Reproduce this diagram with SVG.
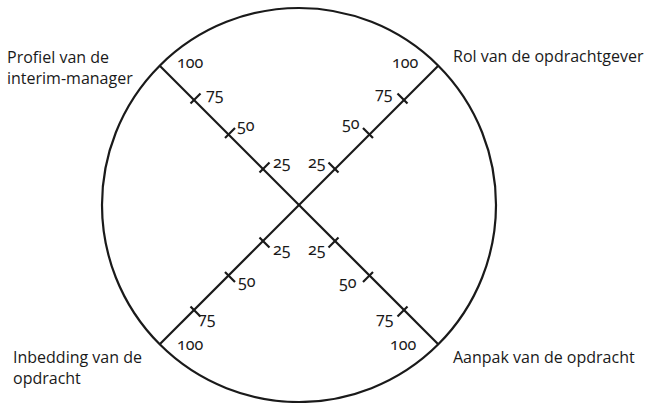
<svg xmlns="http://www.w3.org/2000/svg" width="650" height="403" viewBox="0 0 650 403">
  <style>
    .ln { stroke: #1a1a1a; stroke-width: 2.2; fill: none; stroke-linecap: butt; }
    .tk { stroke: #1a1a1a; stroke-width: 2.2; }
    .lbl { font-family: "Open Sans", "Noto Sans", "Liberation Sans", sans-serif; font-size: 16px; fill: #1a1a1a; }
    .num { font-family: "Noto Sans", "Open Sans", "Liberation Sans", sans-serif; font-size: 16px; fill: #1a1a1a; font-variant-numeric: oldstyle-nums; font-feature-settings: "onum" 1; }
  </style>
  <rect width="650" height="403" fill="#ffffff"/>
  <g id="circle">
    <circle class="ln" cx="299" cy="205" r="197"/>
  </g>
  <g id="connectors">
    <line class="ln" x1="160" y1="66" x2="438" y2="344"/>
    <line class="ln" x1="438" y1="66" x2="160" y2="344"/>
  </g>
  <g id="ticks">
    <line class="tk" x1="259.5" y1="172.5" x2="269.5" y2="162.5"/>
    <line class="tk" x1="225" y1="138" x2="235" y2="128"/>
    <line class="tk" x1="190.5" y1="103.5" x2="200.5" y2="93.5"/>
    <line class="tk" x1="328.5" y1="247.5" x2="338.5" y2="237.5"/>
    <line class="tk" x1="363" y1="282" x2="373" y2="272"/>
    <line class="tk" x1="397.5" y1="316.5" x2="407.5" y2="306.5"/>
    <line class="tk" x1="328.5" y1="162.5" x2="338.5" y2="172.5"/>
    <line class="tk" x1="363" y1="128" x2="373" y2="138"/>
    <line class="tk" x1="397.5" y1="93.5" x2="407.5" y2="103.5"/>
    <line class="tk" x1="259.5" y1="237.5" x2="269.5" y2="247.5"/>
    <line class="tk" x1="225" y1="272" x2="235" y2="282"/>
    <line class="tk" x1="190.5" y1="306.5" x2="200.5" y2="316.5"/>
  </g>
  <g id="axis-profiel">
    <text class="lbl" x="7" y="63">Profiel van de</text>
    <text class="lbl" x="7" y="84">interim-manager</text>
    <text class="num" x="177" y="68">100</text>
    <text class="num" x="206" y="100">75</text>
    <text class="num" x="237" y="131">50</text>
    <text class="num" x="273" y="168">25</text>
  </g>
  <g id="axis-rol">
    <text class="lbl" x="453" y="62">Rol van de opdrachtgever</text>
    <text class="num" x="392" y="68">100</text>
    <text class="num" x="375" y="99">75</text>
    <text class="num" x="342" y="129">50</text>
    <text class="num" x="308" y="168">25</text>
  </g>
  <g id="axis-inbedding">
    <text class="lbl" x="13" y="363">Inbedding van de</text>
    <text class="lbl" x="13" y="384">opdracht</text>
    <text class="num" x="273" y="255">25</text>
    <text class="num" x="238" y="287">50</text>
    <text class="num" x="198" y="324">75</text>
    <text class="num" x="177" y="350">100</text>
  </g>
  <g id="axis-aanpak">
    <text class="lbl" x="453" y="363">Aanpak van de opdracht</text>
    <text class="num" x="308" y="255">25</text>
    <text class="num" x="339" y="288">50</text>
    <text class="num" x="376" y="324">75</text>
    <text class="num" x="390" y="350">100</text>
  </g>
</svg>
